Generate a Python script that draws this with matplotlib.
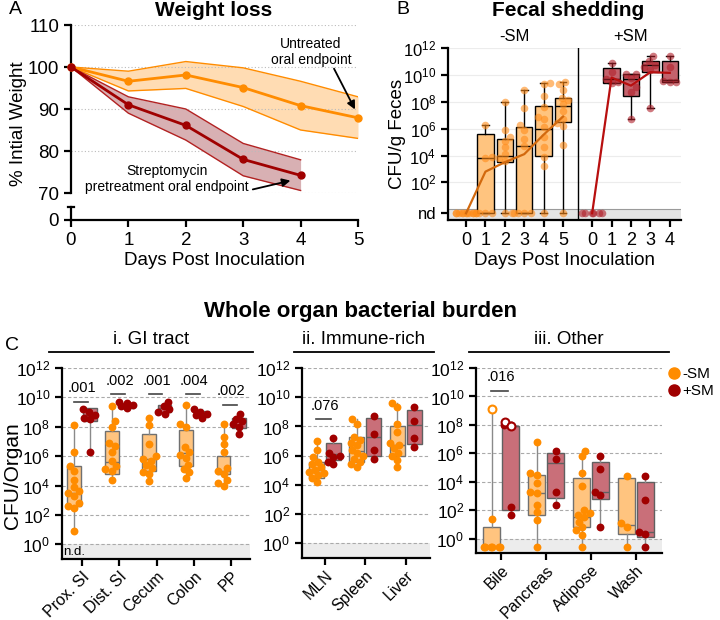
import numpy as np
import matplotlib
matplotlib.use("Agg")
from matplotlib import pyplot as plt
from matplotlib.lines import Line2D

plt.rcParams['font.family'] = ['Liberation Sans', 'DejaVu Sans']
plt.rcParams['mathtext.fontset'] = 'custom'
plt.rcParams['mathtext.rm'] = 'Liberation Sans'
plt.rcParams['axes.linewidth'] = 1.6
plt.rcParams['xtick.major.width'] = 1.6
plt.rcParams['ytick.major.width'] = 1.6
plt.rcParams['xtick.major.size'] = 5
plt.rcParams['ytick.major.size'] = 5

ORANGE = '#ff8c00'
RED = '#a00000'
ORANGE_BOX = '#ffc47f'
RED_BOX = '#c96f79'

# ---- A: weight loss ----
weight_days = [0, 1, 2, 3, 4, 5]
weight_untreated = [100, 96.6, 98.1, 95.1, 90.8, 87.9]
weight_untreated_lo = [100, 94.3, 94.9, 90.6, 85.0, 83.0]
weight_untreated_hi = [100, 99.0, 101.3, 99.8, 96.6, 92.9]
weight_sm_days = [0, 1, 2, 3, 4]
weight_sm = [100, 91.0, 86.1, 78.0, 74.2]
weight_sm_lo = [100, 89.0, 82.6, 74.1, 70.6]
weight_sm_hi = [100, 92.9, 90.0, 81.8, 77.9]

# ---- B: fecal shedding (log10 CFU/g, ND = not detected) ----
ND = -0.3
b_days_minus = [0, 1, 2, 3, 4, 5]
b_days_plus = [0, 1, 2, 3, 4]
b_minus_pts = [
    [ND] * 12,
    [6.3, 3.9, 3.8, ND, ND, ND],
    [8.0, 5.9, 5.4, 5.1, 4.6, 4.1, 3.85, 3.6, ND, ND],
    [8.9, 7.55, 6.3, 5.9, 5.2, 4.7, ND, ND, ND, ND],
    [9.4, 9.35, 8.4, 7.6, 6.9, 6.7, 6.1, 5.4, 4.6, 3.9, 3.2, ND],
    [9.5, 9.3, 8.9, 8.3, 8.1, 7.8, 7.3, 6.7, 6.4, 6.2, 4.8, ND],
]
# q1, median, q3, whisker low, whisker high
b_minus_box = [None, (ND, 3.85, 5.6, ND, 6.3), (3.55, 4.0, 5.2, ND, 8.0),
               (ND, 4.7, 6.15, ND, 8.9), (4.0, 6.0, 7.7, ND, 9.4), (6.5, 7.65, 8.3, ND, 9.5)]
b_minus_mean = [ND, 2.8, 3.5, 4.1, 5.55, 6.9]
b_plus_pts = [
    [ND] * 6,
    [10.9, 10.2, 9.7, 9.5, 9.4],
    [10.1, 10.1, 9.8, 9.1, 8.75, 6.75],
    [11.4, 11.0, 10.75, 10.6, 10.4, 7.5],
    [11.4, 10.6, 9.55, 9.5, 9.5],
]
b_plus_box = [None, (9.4, 9.7, 10.5, 9.4, 10.9), (8.45, 9.7, 10.1, 6.75, 10.1),
              (10.2, 10.75, 11.0, 7.5, 11.4), (9.5, 9.6, 11.0, 9.5, 11.4)]
b_plus_mean = [ND, 9.8, 9.2, 10.2, 10.15]

# ---- C: whole organ burden (log10 CFU/organ) ----
ND_C = -0.55
gi_organs = ['Prox. SI', 'Dist. SI', 'Cecum', 'Colon', 'PP']
gi_minus = [
    [8.1, 6.3, 5.3, 5.0, 4.4, 3.9, 3.6, 3.5, 3.3, 2.8, 2.6, 2.5, 0.9],
    [9.4, 8.4, 8.0, 6.9, 6.7, 6.3, 5.7, 5.3, 5.1, 5.0, 4.4],
    [8.6, 8.1, 6.8, 6.0, 5.8, 5.7, 5.4, 5.2, 4.9, 4.8, 4.3],
    [9.5, 8.2, 8.0, 6.6, 6.3, 6.1, 5.9, 5.4, 5.1, 4.9, 4.5],
    [8.2, 7.3, 6.8, 6.3, 5.2, 5.0, 4.8, 4.4, 4.2, 4.0],
]
gi_plus = [
    [9.2, 9.0, 8.8, 8.6, 8.5, 6.3],
    [9.7, 9.6, 9.5, 9.4, 9.3],
    [9.7, 9.4, 9.2, 9.0, 8.9],
    [9.2, 9.0, 8.9, 8.8, 8.6],
    [8.85, 8.5, 8.4, 8.2, 8.0, 7.5],
]
gi_minus_box = [(2.6, 3.5, 5.3, 0.9, 8.1), (4.8, 5.6, 7.7, 4.4, 9.4), (5.0, 5.8, 7.5, 4.3, 8.6),
                (5.3, 6.2, 7.8, 4.5, 9.5), (4.8, 5.0, 6.0, 4.0, 8.2)]
gi_plus_box = [(8.4, 8.8, 9.3, 6.3, 9.3), (9.3, 9.5, 9.6, 9.3, 9.7), (9.0, 9.3, 9.5, 8.9, 9.7),
               (8.8, 8.9, 9.1, 8.6, 9.2), (7.9, 8.4, 8.6, 7.5, 8.85)]
gi_pvals = ['.001', '.002', '.001', '.004', '.002']
gi_bar_y = [9.7, 10.2, 10.2, 10.2, 9.5]

imm_organs = ['MLN', 'Spleen', 'Liver']
imm_minus = [
    [7.0, 6.4, 5.9, 5.6, 5.4, 5.2, 5.0, 4.9, 4.8, 4.7, 4.5, 4.2],
    [8.5, 8.2, 7.3, 7.1, 6.9, 6.7, 6.4, 6.2, 6.0, 5.8, 5.6, 5.4, 5.2],
    [9.6, 9.3, 8.2, 7.6, 6.9, 6.7, 6.5, 6.2, 6.0, 5.7, 5.2],
]
imm_plus = [
    [7.2, 6.2, 6.0, 5.9, 5.6, 5.4],
    [8.7, 7.5, 6.4, 5.8],
    [9.3, 8.4, 7.2, 6.6],
]
imm_minus_box = [(4.5, 5.0, 5.6, 4.2, 7.0), (5.6, 6.3, 7.3, 5.2, 8.5), (6.0, 6.7, 8.0, 5.2, 9.6)]
imm_plus_box = [(5.7, 6.1, 6.9, 5.4, 7.2), (6.0, 7.3, 8.6, 5.8, 8.7), (6.8, 8.1, 9.1, 6.6, 9.3)]
imm_pvals = ['.076', None, None]
imm_bar_y = [8.5, None, None]

oth_organs = ['Bile', 'Pancreas', 'Adipose', 'Wash']
oth_minus = [
    [1.4, ND_C, ND_C, ND_C, ND_C, ND_C, ND_C],
    [6.8, 4.6, 4.5, 3.9, 3.3, 3.2, 2.4, 1.9, 1.3, ND_C],
    [6.2, 5.8, 4.6, 3.7, 2.0, 1.8, 1.7, 1.5, 1.2, 0.8, 0.6, 0.3, ND_C],
    [4.4, 1.1, 0.85, ND_C],
]
oth_plus = [
    [8.0, 8.0, 2.2, 1.7],
    [6.2, 5.6, 3.3, 2.4],
    [5.8, 4.9, 3.3, 3.1, 0.85],
    [4.4, 2.7, 0.5, 0.35, ND_C],
]
oth_minus_open = [[9.15], [], [], []]
oth_plus_open = [[8.2, 7.9], [], [], []]
oth_minus_box = [(ND_C, ND_C, 0.8, ND_C, 9.15), (1.7, 3.2, 4.5, ND_C, 6.8),
                 (0.8, 1.5, 4.3, ND_C, 6.2), (0.35, 1.0, 4.3, ND_C, 4.4)]
oth_plus_box = [(2.0, 7.95, 7.95, 1.7, 8.2), (2.9, 5.3, 6.0, 2.4, 6.2),
                (2.8, 3.3, 5.4, 0.85, 5.8), (0.1, 0.5, 4.0, ND_C, 4.4)]
oth_pvals = ['.016', None, None, None]
oth_bar_y = [10.4, None, None, None]


def fx(px):
    return px / 720


def fy(py):
    return 1 - py / 620


def swarm(ax, xc, vals, maxw_px, d_px=6.5):
    # push points sideways so they overlap as little as possible
    trans = ax.transData
    x0 = trans.transform((xc, 0))[0]
    ys = [trans.transform((xc, v))[1] for v in vals]
    cands = np.linspace(-maxw_px, maxw_px, 31)
    cands = cands[np.argsort(np.abs(cands), kind='stable')]
    placed = []
    out = np.zeros(len(vals))
    for i in np.argsort(ys):
        best, best_pen = 0.0, None
        for c in cands:
            pen = sum(max(0, d_px - np.hypot(c - px, ys[i] - py)) for px, py in placed)
            if best_pen is None or pen < best_pen - 1e-9:
                best, best_pen = c, pen
        placed.append((best, ys[i]))
        out[i] = best
    inv = trans.inverted()
    return [inv.transform((x0 + o, y))[0] for o, y in zip(out, ys)]


def draw_boxes(ax, pos, stats, face, edge, width, whis, caps, capw=0.3):
    keep = [(p, s) for p, s in zip(pos, stats) if s is not None]
    st = [dict(q1=s[0], med=s[1], q3=s[2], whislo=s[3], whishi=s[4], fliers=[]) for _, s in keep]
    ax.bxp(st, positions=[p for p, _ in keep], widths=width, patch_artist=True,
           showfliers=False, showcaps=caps, capwidths=capw, manage_ticks=False,
           boxprops=dict(facecolor=face, edgecolor=edge, linewidth=1),
           medianprops=dict(color=edge, linewidth=1),
           whiskerprops=dict(color=whis, linewidth=1),
           capprops=dict(color=edge, linewidth=1))


def log_ticks(ax, exps, size):
    ax.set_yticks(exps)
    ax.set_yticklabels([r'$\mathregular{10^{%d}}$' % e for e in exps], fontsize=size)


fig = plt.figure(figsize=(7.2, 6.2), dpi=100)

# ================= A =================
axA = fig.add_axes([fx(71), fy(193), fx(287), 168 / 620])
axA0 = fig.add_axes([fx(71), fy(220), fx(287), 13 / 620])
axA.set_xlim(0, 5)
axA.set_ylim(70, 110)
axA0.set_xlim(0, 5)
axA0.set_ylim(0, 1)
for a in (axA, axA0):
    a.spines['top'].set_visible(False)
    a.spines['right'].set_visible(False)
axA.spines['bottom'].set_visible(False)
axA.set_xticks([])
axA.set_yticks([70, 80, 90, 100, 110])
axA.tick_params(labelsize=13.5)
axA.yaxis.grid(True, linestyle=(0, (1, 2)), color='#bbbbbb', lw=0.8)
axA0.set_yticks([0])
axA0.set_xticks(weight_days)
axA0.tick_params(labelsize=13.5)
axA0.plot([-0.05, 0.05], [1, 1], color='k', lw=1.6, clip_on=False)

axA.fill_between(weight_days, weight_untreated_lo, weight_untreated_hi, color='#ffdcb3', lw=0)
axA.plot(weight_days, weight_untreated_lo, color=ORANGE, lw=1)
axA.plot(weight_days, weight_untreated_hi, color=ORANGE, lw=1)
axA.plot(weight_days, weight_untreated, color=ORANGE, lw=2, marker='o', ms=5, clip_on=False, zorder=5)
axA.fill_between(weight_sm_days, weight_sm_lo, weight_sm_hi, color='#d8b0b3', lw=0)
axA.plot(weight_sm_days, weight_sm_lo, color='#b22222', lw=1)
axA.plot(weight_sm_days, weight_sm_hi, color='#b22222', lw=1)
axA.plot(weight_sm_days, weight_sm, color=RED, lw=2, marker='o', ms=5, clip_on=False, zorder=5)

axA.text(4.18, 103.6, 'Untreated\noral endpoint', ha='center', va='center', fontsize=10)
axA.annotate('', xy=(4.97, 89.3), xytext=(4.56, 100.2),
             arrowprops=dict(arrowstyle='-|>', color='k', lw=1.3, mutation_scale=12))
axA.text(1.67, 73.4, 'Streptomycin\npretreatment oral endpoint', ha='center', va='center', fontsize=10)
axA.annotate('', xy=(3.87, 73.1), xytext=(3.12, 70.7),
             arrowprops=dict(arrowstyle='-|>', color='k', lw=1.3, mutation_scale=12),
             annotation_clip=False)

axA.set_ylabel('% Intial Weight', fontsize=13.5)
axA.yaxis.set_label_coords(-0.155, 0.41)
axA0.set_xlabel('Days Post Inoculation', fontsize=13.5, labelpad=2)
fig.text(fx(214), fy(10), 'Weight loss', ha='center', va='center', fontsize=15, fontweight='bold')
fig.text(fx(9), fy(9), 'A', ha='left', va='center', fontsize=14)

# ================= B =================
axB = fig.add_axes([fx(448), fy(220), fx(233), 172 / 620])
axB.set_xlim(-0.93, 11.08)
axB.set_ylim(-0.8, 12)
axB.spines['top'].set_visible(False)
axB.spines['right'].set_visible(False)
axB.axhspan(-0.8, 0.0, color='#e4e4e4', lw=0, zorder=0)
axB.axhline(0.0, color='#9a9a9a', lw=0.8, zorder=0.5)
for e in range(2, 13, 2):
    axB.axhline(e, color='#ececec', lw=0.8, zorder=0)
axB.axvline(5.75, color='k', lw=1)
axB.set_yticks([ND] + list(range(2, 13, 2)))
axB.set_yticklabels(['nd'] + [r'$\mathregular{10^{%d}}$' % e for e in range(2, 13, 2)], fontsize=12)
pos_minus = [d for d in b_days_minus]
pos_plus = [6.5 + d for d in b_days_plus]
axB.set_xticks(pos_minus + pos_plus)
axB.set_xticklabels([str(d) for d in b_days_minus] + [str(d) for d in b_days_plus], fontsize=13)

draw_boxes(axB, pos_minus, b_minus_box, ORANGE_BOX, 'k', 0.85, 'k', True, 0.35)
draw_boxes(axB, pos_plus, b_plus_box, '#c4626c', 'k', 0.85, 'k', True, 0.35)
for p, vals in zip(pos_minus, b_minus_pts):
    axB.scatter(swarm(axB, p, vals, 10), vals, s=30, color='#ff8c1a', alpha=0.6, lw=0, zorder=4, clip_on=False)
for p, vals in zip(pos_plus, b_plus_pts):
    axB.scatter(swarm(axB, p, vals, 10), vals, s=30, color='#b0202a', alpha=0.6, lw=0, zorder=4, clip_on=False)
axB.plot(pos_minus, b_minus_mean, color='#d2690e', lw=1.6, zorder=5)
axB.plot(pos_plus, b_plus_mean, color='#b80f0f', lw=1.6, zorder=5)

axB.text(np.mean(pos_minus), 12.3, '-SM', ha='center', va='bottom', fontsize=12)
axB.text(np.mean(pos_plus), 12.3, '+SM', ha='center', va='bottom', fontsize=12)
axB.set_ylabel('CFU/g Feces', fontsize=13.5)
axB.yaxis.set_label_coords(-0.18, 0.5)
axB.set_xlabel('Days Post Inoculation', fontsize=13.5, labelpad=2)
fig.text(fx(568), fy(10), 'Fecal shedding', ha='center', va='center', fontsize=15, fontweight='bold')
fig.text(fx(396), fy(9), 'B', ha='left', va='center', fontsize=14)

# ================= C =================
fig.text(fx(360), fy(311), 'Whole organ bacterial burden', ha='center', va='center',
         fontsize=16, fontweight='bold')
fig.text(fx(5), fy(346), 'C', ha='left', va='center', fontsize=14)

panels = [
    ([fx(62), fy(559), fx(188), 191 / 620], (-0.54, 4.5), gi_organs, gi_minus, gi_plus,
     gi_minus_box, gi_plus_box, gi_pvals, gi_bar_y, None, None, 'i. GI tract', (49, 253)),
    ([fx(302), fy(558), fx(128), 190 / 620], (-0.57, 2.6), imm_organs, imm_minus, imm_plus,
     imm_minus_box, imm_plus_box, imm_pvals, imm_bar_y, None, None, 'ii. Immune-rich', (294, 434)),
    ([fx(476), fy(553), fx(186), 185 / 620], (-0.56, 3.58), oth_organs, oth_minus, oth_plus,
     oth_minus_box, oth_plus_box, oth_pvals, oth_bar_y, oth_minus_open, oth_plus_open,
     'iii. Other', (469, 669)),
]
axes_c = []
for (rect, xl, organs, mins, plus, mbox, pbox, pv, by, mopen, popen, head, hx) in panels:
    ax = fig.add_axes(rect)
    axes_c.append(ax)
    ax.set_xlim(*xl)
    ax.set_ylim(-1, 12)
    ax.spines['top'].set_visible(False)
    ax.spines['right'].set_visible(False)
    ax.set_axisbelow(True)
    ax.axhspan(-1, 0, color='#ececec', lw=0, zorder=0)
    log_ticks(ax, list(range(0, 13, 2)), 12.5)
    ax.yaxis.grid(True, linestyle=(0, (3, 2)), color='#aaaaaa', lw=0.8)
    cats = np.arange(len(organs))
    ax.set_xticks(cats)
    ax.set_xticklabels(organs, rotation=45, ha='right', rotation_mode='anchor', fontsize=11.5)
    ax.tick_params(axis='x', pad=2)
    pm = cats - 0.21
    pp = cats + 0.21
    draw_boxes(ax, pm, mbox, ORANGE_BOX, '#707070', 0.37, '#8a8a8a', False)
    draw_boxes(ax, pp, pbox, RED_BOX, '#606060', 0.37, '#8a8a8a', False)
    for p, vals in zip(pm, mins):
        ax.scatter(swarm(ax, p, vals, 8), vals, s=32, color=ORANGE, lw=0, zorder=4, clip_on=False)
    for p, vals in zip(pp, plus):
        ax.scatter(swarm(ax, p, vals, 8), vals, s=32, color=RED, lw=0, zorder=4, clip_on=False)
    if mopen is not None:
        for p, vals in zip(pm, mopen):
            if vals:
                ax.scatter([p] * len(vals), vals, s=32, facecolor='white', edgecolor=ORANGE, lw=1.5, zorder=5)
        for p, vals in zip(pp, popen):
            if vals:
                ax.scatter(swarm(ax, p, vals, 8), vals, s=32, facecolor='white', edgecolor=RED, lw=1.5, zorder=5)
    for c, t, y in zip(cats, pv, by):
        if t is None:
            continue
        ax.plot([c - 0.22, c + 0.15], [y, y], color='#444444', lw=1.2)
        ax.text(c, y + 0.45, t, ha='center', va='bottom', fontsize=10.5)
    fig.add_artist(Line2D([fx(hx[0]), fx(hx[1])], [fy(352), fy(352)], color='k', lw=1.3))
    fig.text(fx((hx[0] + hx[1]) / 2), fy(339), head, ha='center', va='center', fontsize=13.5)

axes_c[0].set_ylabel('CFU/Organ', fontsize=15)
axes_c[0].yaxis.set_label_coords(-0.215, 0.435)
axes_c[0].text(-0.5, -0.5, 'n.d.', ha='left', va='center', fontsize=9.5)

leg_handles = [Line2D([], [], ls='', marker='o', ms=8, color=ORANGE),
               Line2D([], [], ls='', marker='o', ms=8, color=RED)]
fig.legend(leg_handles, ['-SM', '+SM'], loc='upper left', bbox_to_anchor=(fx(668), fy(367)),
           frameon=False, fontsize=11, handletextpad=0.15, labelspacing=0.2, borderpad=0,
           handlelength=0.8, borderaxespad=0)

fig.savefig('out.png', dpi=100)
